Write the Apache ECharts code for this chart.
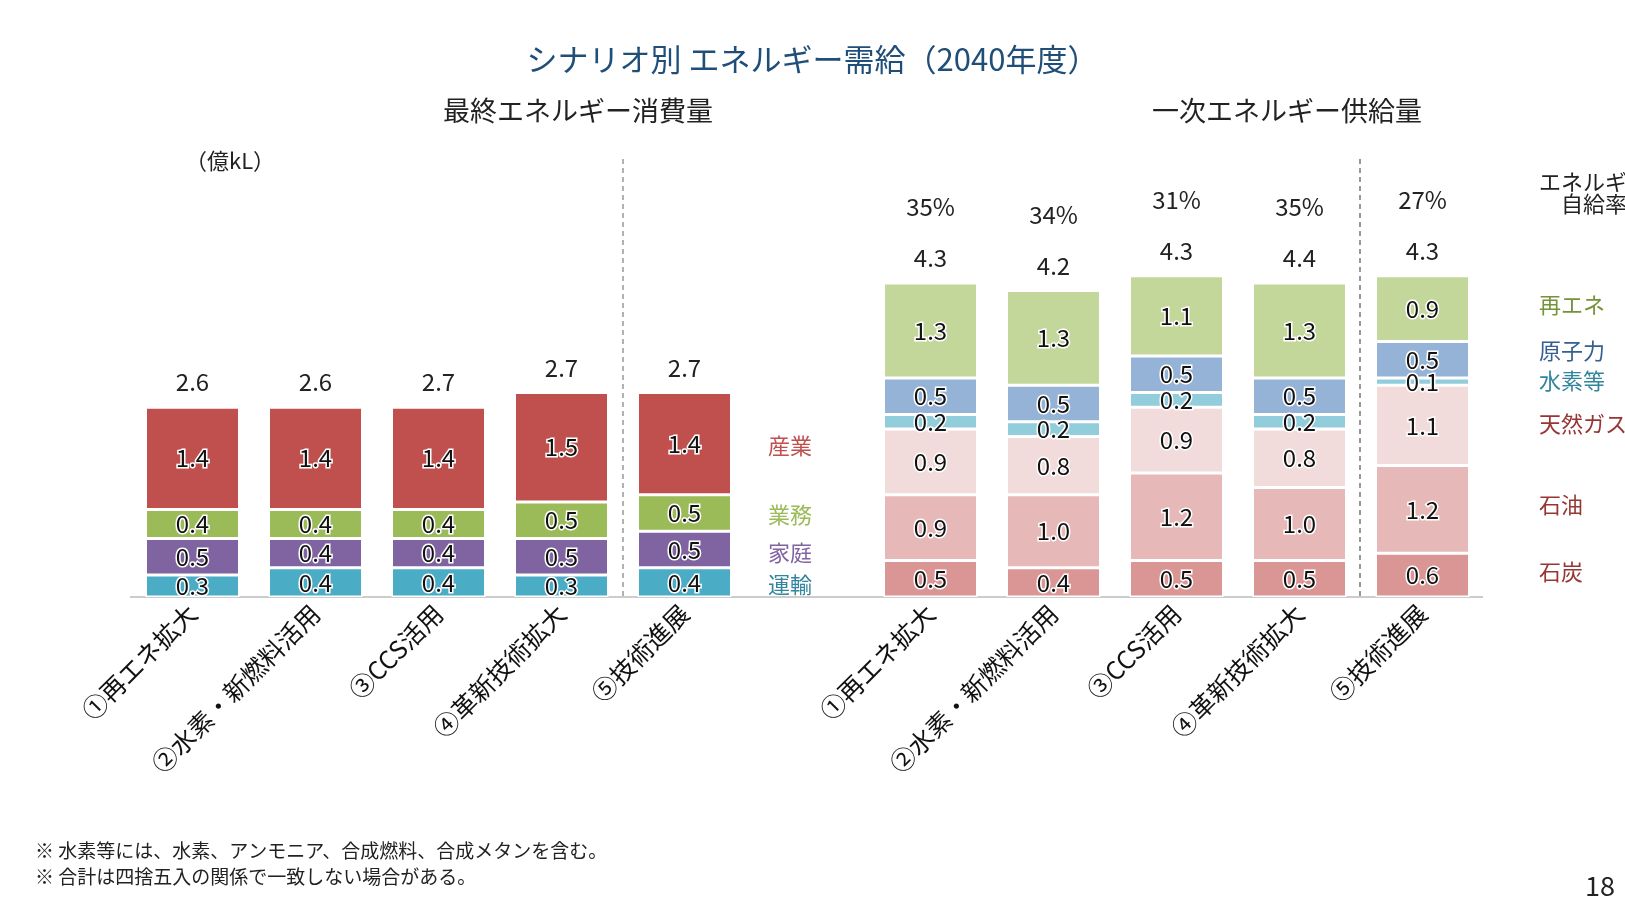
<!DOCTYPE html>
<html><head><meta charset="utf-8">
<script src="https://cdn.jsdelivr.net/npm/echarts@6/dist/echarts.min.js"></script>
<style>html,body{margin:0;background:#fff}#c{width:1625px;height:907px}</style>
</head><body><div id="c"></div>
<script>
const FONT = '"Noto Sans CJK JP", sans-serif';
const categories = ['①再エネ拡大', '②水素・新燃料活用', '③CCS活用', '④革新技術拡大', '⑤技術進展'];
// 最終エネルギー消費量
const transport = [0.3, 0.4, 0.4, 0.3, 0.4];
const household = [0.5, 0.4, 0.4, 0.5, 0.5];
const business = [0.4, 0.4, 0.4, 0.5, 0.5];
const industry = [1.4, 1.4, 1.4, 1.5, 1.4];
const finalTotals = ['2.6', '2.6', '2.7', '2.7', '2.7'];
// 一次エネルギー供給量
const coal = [0.5, 0.4, 0.5, 0.5, 0.6];
const oil = [0.9, 1.0, 1.2, 1.0, 1.2];
const gas = [0.9, 0.8, 0.9, 0.8, 1.1];
const hydrogen = [0.2, 0.2, 0.2, 0.2, 0.1];
const nuclear = [0.5, 0.5, 0.5, 0.5, 0.5];
const renewable = [1.3, 1.3, 1.1, 1.3, 0.9];
const primaryTotals = ['4.3', '4.2', '4.3', '4.4', '4.3'];
const selfSufficiency = ['35%', '34%', '31%', '35%', '27%'];

// 12 slots: 0-4 left, 5 gap, 6-10 right, 11 legend column
const xLabels = [...categories, '', ...categories, ''];
const left = a => [...a, null, null, null, null, null, null, null];
const right = a => [null, null, null, null, null, null, ...a, null];

const valLabel = {
  show: true, position: 'inside', fontSize: 24, color: '#111',
  textBorderColor: '#fff', textBorderWidth: 3, fontFamily: FONT,
  formatter: p => p.value == null ? '' : p.value.toFixed(1)
};
function seg(name, data, color) {
  return { name, type: 'bar', stack: 's', data, barWidth: 94,
    itemStyle: { color, borderColor: '#fff', borderWidth: 1.5 }, label: valLabel };
}
const totalsSeries = {
  type: 'bar', stack: 's', barWidth: 94,
  data: [...finalTotals.map(() => 0), null, ...primaryTotals.map(() => 0), null],
  itemStyle: { color: 'transparent' },
  label: {
    show: true, position: 'top', distance: 2, fontFamily: FONT, color: '#222',
    formatter: p => {
      const i = p.dataIndex;
      if (i < 5) return '{t|' + finalTotals[i] + '}';
      if (i > 5 && i < 11) return '{p|' + selfSufficiency[i - 6] + '}\n{t|' + primaryTotals[i - 6] + '}';
      return '';
    },
    rich: {
      t: { fontSize: 24, lineHeight: 46, fontFamily: FONT, color: '#222' },
      p: { fontSize: 24, lineHeight: 56, fontFamily: FONT, color: '#222' }
    }
  }
};
function txt(x, y, text, color, size) {
  return { type: 'text', left: x, top: y, style: { text, fill: color, font: (size || 22) + 'px ' + FONT, textAlign: 'center' } };
}
const chart = echarts.init(document.getElementById('c'));
chart.setOption({
  animation: false,
  grid: { left: 131, right: 18, top: 159, height: 438 },
  xAxis: { type: 'category', data: xLabels,
    axisLine: { show: false }, axisTick: { show: false },
    axisLabel: { rotate: 45, fontSize: 25, color: '#111', fontFamily: FONT, margin: 12, interval: 0 } },
  yAxis: { type: 'value', min: 0, max: 6, show: false },
  series: [
    seg('運輸', left(transport), '#4BACC6'),
    seg('家庭', left(household), '#8064A2'),
    seg('業務', left(business), '#9BBB59'),
    seg('産業', left(industry), '#C0504D'),
    seg('石炭', right(coal), '#DA9694'),
    seg('石油', right(oil), '#E6B8B7'),
    seg('天然ガス', right(gas), '#F2DCDB'),
    seg('水素等', right(hydrogen), '#92CDDC'),
    seg('原子力', right(nuclear), '#95B3D7'),
    seg('再エネ', right(renewable), '#C4D79B'),
    totalsSeries
  ],
  graphic: [
    { type: 'text', left: 'center', top: 44, style: { text: 'シナリオ別 エネルギー需給（2040年度）', fill: '#1F4E79', font: '31px ' + FONT } },
    txt(443, 97, '最終エネルギー消費量', '#222', 27),
    txt(1152, 97, '一次エネルギー供給量', '#222', 27),
    txt(185, 150, '（億kL）', '#222', 22),
    { type: 'line', shape: { x1: 130, y1: 597, x2: 1483, y2: 597 }, style: { stroke: '#bbb', lineWidth: 1.5 } },
    { type: 'line', shape: { x1: 623, y1: 159, x2: 623, y2: 597 }, style: { stroke: '#999', lineWidth: 1.5, lineDash: [5, 4] } },
    { type: 'line', shape: { x1: 1360, y1: 159, x2: 1360, y2: 597 }, style: { stroke: '#777', lineWidth: 1.5, lineDash: [5, 4] } },
    txt(768, 435, '産業', '#C0504D'),
    txt(768, 504, '業務', '#9BBB59'),
    txt(768, 542, '家庭', '#8064A2'),
    txt(768, 574, '運輸', '#31859C'),
    txt(1539, 171, 'エネルギー\n自給率', '#222', 22),
    txt(1539, 294, '再エネ', '#76933C'),
    txt(1539, 340, '原子力', '#366092'),
    txt(1539, 370, '水素等', '#31859C'),
    txt(1539, 413, '天然ガス', '#963634'),
    txt(1539, 494, '石油', '#963634'),
    txt(1539, 561, '石炭', '#963634'),
    { type: 'text', left: 35, top: 838, style: { text: '※ 水素等には、水素、アンモニア、合成燃料、合成メタンを含む。\n※ 合計は四捨五入の関係で一致しない場合がある。', fill: '#222', font: '19px ' + FONT, lineHeight: 26 } },
    { type: 'text', left: 1585, top: 872, style: { text: '18', fill: '#222', font: '27px ' + FONT } }
  ]
});
</script></body></html>
